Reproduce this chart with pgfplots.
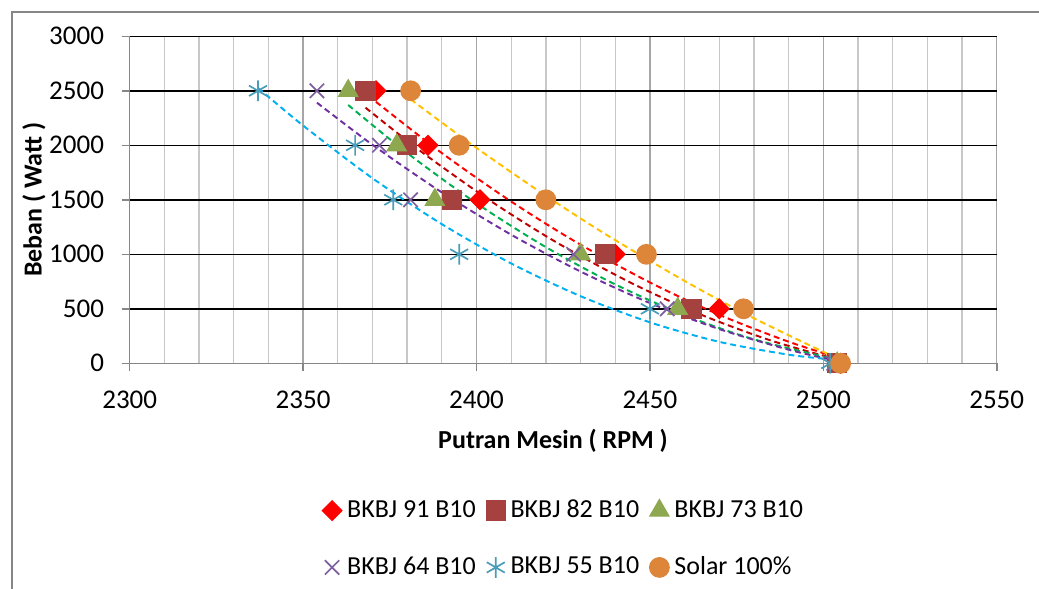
\documentclass[border=0pt]{standalone}
\usepackage{fontspec}
\setmainfont{Carlito}
\usepackage{pgfplots}
\pgfplotsset{compat=1.18}
\def\U{0.385pt}
\definecolor{cA}{HTML}{FF0000}
\definecolor{cB}{HTML}{A54240}
\definecolor{cC}{HTML}{8DA84F}
\definecolor{cD}{HTML}{7D5FA0}
\definecolor{cE}{HTML}{4A9DB8}
\definecolor{cF}{HTML}{DD8539}
\definecolor{tA}{HTML}{FF0000}
\definecolor{tB}{HTML}{C00000}
\definecolor{tC}{HTML}{00B050}
\definecolor{tD}{HTML}{7030A0}
\definecolor{tE}{HTML}{00B0F0}
\definecolor{tF}{HTML}{FFC000}
\definecolor{axgray}{HTML}{868686}
\definecolor{majgray}{HTML}{A6A6A6}
\definecolor{mingray}{HTML}{C8C8C8}
\begin{document}
\begin{tikzpicture}
\path[use as bounding box] (0,0) rectangle ({1039*\U},{-588*\U});
\draw[axgray, line width=0.7pt] ({12*\U},{-600*\U}) -- ({12*\U},{-12*\U}) -- ({1050*\U},{-12*\U});
\begin{axis}[
  at={({129.7*\U},{-363.3*\U})}, anchor=south west,
  scale only axis, width={867*\U}, height={327*\U},
  xmin=2300, xmax=2550, ymin=0, ymax=3000,
  xtick={2300,2350,...,2550}, ytick={0,500,...,3000},
  minor x tick num=4,
  xmajorgrids, xminorgrids, ymajorgrids,
  major x grid style={majgray, line width=0.5pt},
  minor x grid style={mingray, line width=0.5pt},
  major y grid style={black, line width=0.55pt},
  axis lines*=left,
  axis line style={axgray, line width=0.6pt},
  tick align=outside, tick pos=left,
  major tick length={8*\U}, minor tick length=0pt,
  tick style={axgray, line width=0.6pt},
  ticklabel style={font=\fontsize{10.4}{12}\selectfont},
  xticklabel shift={4pt},
  yticklabel shift={3.3pt},
  /pgf/number format/assume math mode=true,
  /pgf/number format/1000 sep={},
  xlabel={Putran Mesin ( RPM )},
  ylabel={Beban ( Watt )},
  every axis x label/.style={at={(axis description cs:0.4882,-0.2376)}, anchor=center, font=\bfseries\fontsize{10}{12}\selectfont},
  every axis y label/.style={at={(axis description cs:-0.1104,0.5)}, anchor=center, rotate=90, font=\bfseries\fontsize{10}{12}\selectfont},
  legend columns=3,
  legend cell align=left,
  legend image code/.code={\draw[#1] plot coordinates {(0pt,0pt)};},
  legend style={at={(axis description cs:0.5023,-0.5375)}, anchor=center, draw=none, fill=none,
    font=\fontsize{10}{12}\selectfont, row sep=9.5pt,
    /tikz/every even column/.append style={column sep=2pt}},
]
% markers
\addplot[only marks, mark=square*, mark size=2.7pt, mark options={rotate=45, fill=cA, draw=cA}] coordinates {
(2371,2500) (2386,2000) (2401,1500) (2440,1000) (2470,500) (2505,0)};
\addlegendentry{BKBJ 91 B10}
\addplot[only marks, mark=square*, mark size=3.7pt, mark options={fill=cB, draw=cB}] coordinates {
(2368,2500) (2380,2000) (2393,1500) (2437,1000) (2462,500) (2504,0)};
\addlegendentry{BKBJ 82 B10}
\addplot[only marks, mark=triangle*, mark size=4.3pt, mark options={fill=cC, draw=cC}] coordinates {
(2363,2500) (2377,2000) (2388,1500) (2430,1000) (2458,500) (2504,0)};
\addlegendentry{BKBJ 73 B10}
\addplot[only marks, mark=x, mark size=3.9pt, mark options={draw=cD, line width=0.65pt}] coordinates {
(2354,2500) (2372,2000) (2381,1500) (2428,1000) (2455,500) (2503,0)};
\addlegendentry{BKBJ 64 B10}
\addplot[only marks, mark=asterisk, mark size=4pt, mark options={draw=cE, line width=0.65pt}] coordinates {
(2337,2500) (2365,2000) (2376,1500) (2395,1000) (2450,500) (2502,0)};
\addlegendentry{BKBJ 55 B10}
\addplot[only marks, mark=*, mark size=3.8pt, mark options={fill=cF, draw=cF}] coordinates {
(2381,2500) (2395,2000) (2420,1500) (2449,1000) (2477,500) (2505,0)};
\addlegendentry{Solar 100\%}
% polynomial trendlines (order 2)
\addplot[forget plot, no marks, smooth, tA, line width=0.75pt, dash pattern=on 2.3pt off 1.5pt] coordinates {
(2371,2399) (2390,1929) (2410,1484) (2429,1107) (2450,742) (2470,445) (2490,198) (2505,45)};
\addplot[forget plot, no marks, smooth, tB, line width=0.75pt, dash pattern=on 2.3pt off 1.5pt] coordinates {
(2368,2345) (2385,1920) (2405,1470) (2424,1092) (2445,731) (2465,443) (2485,208) (2504,36)};
\addplot[forget plot, no marks, smooth, tC, line width=0.75pt, dash pattern=on 2.3pt off 1.5pt] coordinates {
(2363,2370) (2380,1930) (2400,1468) (2420,1066) (2440,724) (2460,442) (2480,220) (2504,33)};
\addplot[forget plot, no marks, smooth, tD, line width=0.75pt, dash pattern=on 2.3pt off 1.5pt] coordinates {
(2354,2391) (2370,2005) (2390,1568) (2410,1180) (2430,842) (2450,553) (2470,314) (2490,125) (2503,28)};
\addplot[forget plot, no marks, smooth, tE, line width=0.75pt, dash pattern=on 2.3pt off 1.5pt] coordinates {
(2337,2527) (2350,2181) (2370,1698) (2390,1277) (2410,916) (2430,616) (2450,376) (2470,197) (2490,79) (2502,37)};
\addplot[forget plot, no marks, smooth, tF, line width=0.75pt, dash pattern=on 2.3pt off 1.5pt] coordinates {
(2381,2422) (2400,1976) (2420,1537) (2438,1169) (2460,756) (2480,413) (2505,30)};
\end{axis}
\end{tikzpicture}
\end{document}
